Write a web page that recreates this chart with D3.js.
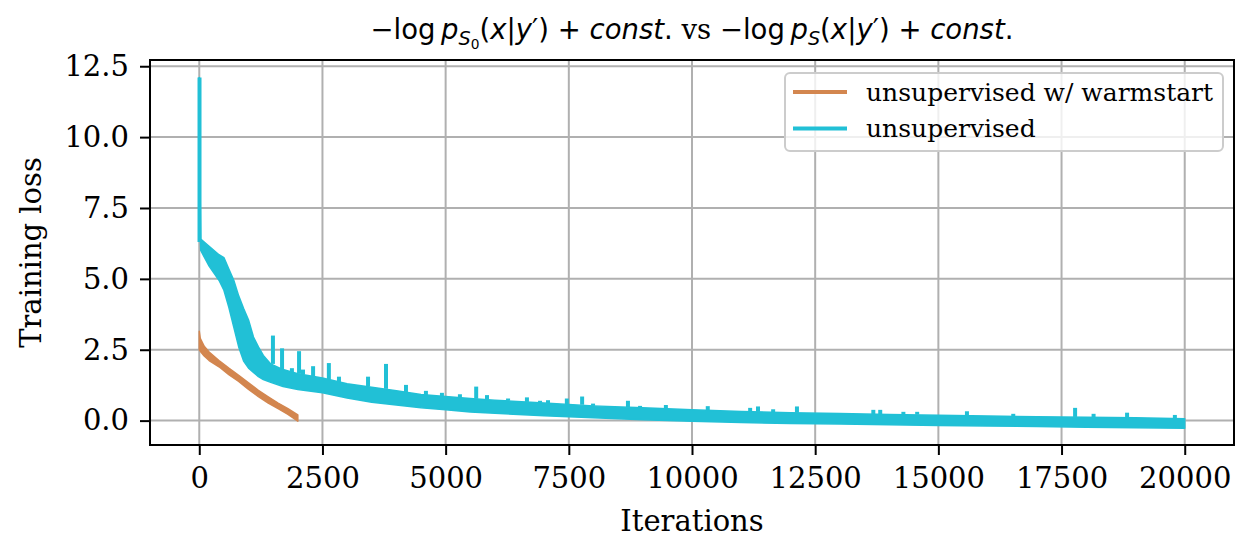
<!DOCTYPE html>
<html>
<head>
<meta charset="utf-8">
<script src="https://cdn.jsdelivr.net/npm/d3@7"></script>
<style>
body { margin: 0; background: #fff; }
svg { display: block; }
</style>
</head>
<body>
<svg id="chart" width="1258" height="558"></svg>
<script>
// tick values
var xTicks = [0, 2500, 5000, 7500, 10000, 12500, 15000, 17500, 20000];
var yTicks = [0, 2.5, 5, 7.5, 10, 12.5];

// "unsupervised" (cyan): band, low / high edge
var cyanIter = [0, 10, 30, 200, 400, 500, 600, 700, 800, 900, 1000, 1100, 1200, 1300, 1450, 1700,
	2000, 2500, 3000, 3500, 4000, 4500, 5000, 5500, 6000, 7000, 8000, 9000, 10000, 11000,
	12000, 13000, 14000, 15000, 16000, 17000, 18000, 19000, 20000];
var cyanLow = [11.9, 7.0, 6.0, 5.45, 4.95, 4.6, 4.0, 3.3, 2.6, 2.1, 1.85, 1.7, 1.55, 1.45, 1.35, 1.2,
	1.1, 0.98, 0.8, 0.65, 0.55, 0.45, 0.38, 0.3, 0.26, 0.17, 0.1, 0.03, -0.02, -0.07,
	-0.1, -0.12, -0.15, -0.17, -0.19, -0.21, -0.23, -0.25, -0.27];
var cyanHigh = [12.1, 9.0, 6.4, 6.15, 5.85, 5.75, 5.35, 4.95, 4.4, 3.95, 3.55, 2.95, 2.6, 2.3, 2.0, 1.8,
	1.65, 1.5, 1.3, 1.18, 1.05, 0.92, 0.85, 0.78, 0.72, 0.62, 0.52, 0.45, 0.38, 0.32,
	0.28, 0.25, 0.22, 0.19, 0.16, 0.14, 0.12, 0.1, 0.07];

// spikes sticking out of the cyan band
var spikeIter = [5, 1495, 1680, 1880, 2025, 2105, 2310, 2630, 2835, 3425, 3790, 4195, 4600, 4925, 5290,
	5620, 5840, 6267, 6650, 6916, 7078, 7460, 7770, 7992, 8700, 8946, 9470, 10320, 11180, 11340,
	11647, 12130, 13680, 13820, 14290, 14570, 15580, 16520, 17775, 18150, 18830, 19800];
var spikeBase = [6.3, 2.0, 1.8, 1.7, 1.65, 1.62, 1.55, 1.45, 1.35, 1.2, 1.12, 1.0, 0.9, 0.86, 0.8,
	0.77, 0.74, 0.7, 0.66, 0.63, 0.62, 0.58, 0.56, 0.52, 0.48, 0.46, 0.42, 0.36, 0.32, 0.31,
	0.3, 0.28, 0.23, 0.23, 0.22, 0.21, 0.18, 0.15, 0.13, 0.12, 0.11, 0.08];
var spikePeak = [12.1, 3.0, 2.55, 1.85, 2.45, 1.8, 1.92, 2.03, 1.55, 1.55, 2.0, 1.26, 1.05, 0.98, 0.93,
	1.2, 0.9, 0.78, 0.82, 0.7, 0.72, 0.78, 0.85, 0.6, 0.7, 0.52, 0.55, 0.51, 0.45, 0.5,
	0.4, 0.5, 0.38, 0.38, 0.31, 0.31, 0.33, 0.24, 0.45, 0.24, 0.28, 0.2];

// "unsupervised w/ warmstart" (orange)
var orangeIter = [0, 20, 100, 200, 400, 600, 800, 1000, 1200, 1400, 1600, 1800, 2000];
var orangeLow = [2.5, 2.45, 2.28, 2.12, 1.9, 1.62, 1.38, 1.1, 0.85, 0.62, 0.42, 0.22, -0.02];
var orangeHigh = [3.15, 2.9, 2.62, 2.42, 2.12, 1.85, 1.6, 1.33, 1.07, 0.84, 0.62, 0.42, 0.2];

var legendLabels = ['unsupervised w/ warmstart', 'unsupervised'];
var colors = ['#d3864f', '#21c0d6'];

var svg = d3.select('#chart');
var margin = {left: 150, right: 24, top: 60, bottom: 113};
var W = 1258, H = 558;
var tickFont = 29;

var x = d3.scaleLinear().domain([-1000, 21000]).range([margin.left, W - margin.right]);
var y = d3.scaleLinear().domain([-0.86, 12.72]).range([H - margin.bottom, margin.top]);

svg.append('defs').append('clipPath').attr('id', 'clip')
	.append('rect')
	.attr('x', x.range()[0]).attr('y', y.range()[1])
	.attr('width', x.range()[1] - x.range()[0])
	.attr('height', y.range()[0] - y.range()[1]);

// grid
var grid = svg.append('g');
grid.selectAll('line.gx').data(xTicks).enter().append('line')
	.attr('x1', function(d) { return x(d); }).attr('x2', function(d) { return x(d); })
	.attr('y1', y.range()[0]).attr('y2', y.range()[1])
	.attr('stroke', '#b0b0b0').attr('stroke-width', 2);
grid.selectAll('line.gy').data(yTicks).enter().append('line')
	.attr('y1', function(d) { return y(d); }).attr('y2', function(d) { return y(d); })
	.attr('x1', x.range()[0]).attr('x2', x.range()[1])
	.attr('stroke', '#b0b0b0').attr('stroke-width', 2);

var plot = svg.append('g').attr('clip-path', 'url(#clip)');

function band(iter, low, high) {
	return d3.area()
		.x(function(i) { return x(iter[i]); })
		.y0(function(i) { return y(low[i]); })
		.y1(function(i) { return y(high[i]); })(d3.range(iter.length));
}

plot.append('path')
	.attr('d', band(orangeIter, orangeLow, orangeHigh))
	.attr('fill', colors[0]).attr('stroke', colors[0]).attr('stroke-width', 1.5)
	.attr('stroke-linejoin', 'round');

plot.append('path')
	.attr('d', band(cyanIter, cyanLow, cyanHigh))
	.attr('fill', colors[1]).attr('stroke', colors[1]).attr('stroke-width', 1.5)
	.attr('stroke-linejoin', 'round');

plot.selectAll('line.spike').data(d3.range(spikeIter.length)).enter().append('line')
	.attr('x1', function(i) { return x(spikeIter[i]); })
	.attr('x2', function(i) { return x(spikeIter[i]); })
	.attr('y1', function(i) { return y(spikeBase[i]); })
	.attr('y2', function(i) { return y(spikePeak[i]); })
	.attr('stroke', colors[1]).attr('stroke-width', 4);

// axes
var xAxis = svg.append('g')
	.attr('transform', 'translate(0,' + y.range()[0] + ')')
	.call(d3.axisBottom(x).tickValues(xTicks).tickSize(10).tickPadding(12).tickFormat(d3.format('d')));
var yAxis = svg.append('g')
	.attr('transform', 'translate(' + x.range()[0] + ',0)')
	.call(d3.axisLeft(y).tickValues(yTicks).tickSize(10).tickPadding(11).tickFormat(d3.format('.1f')));

[xAxis, yAxis].forEach(function(a) {
	a.select('.domain').remove();
	a.selectAll('line').attr('stroke', '#000').attr('stroke-width', 2);
	a.selectAll('text').attr('font-family', 'DejaVu Serif').attr('font-size', tickFont).attr('fill', '#000');
});

svg.append('rect')
	.attr('x', x.range()[0]).attr('y', y.range()[1])
	.attr('width', x.range()[1] - x.range()[0])
	.attr('height', y.range()[0] - y.range()[1])
	.attr('fill', 'none').attr('stroke', '#000').attr('stroke-width', 2);

// labels
svg.append('text')
	.attr('x', (x.range()[0] + x.range()[1]) / 2).attr('y', 531)
	.attr('text-anchor', 'middle')
	.attr('font-family', 'DejaVu Serif').attr('font-size', tickFont)
	.text('Iterations');

svg.append('text')
	.attr('transform', 'translate(41,' + ((y.range()[0] + y.range()[1]) / 2) + ') rotate(-90)')
	.attr('text-anchor', 'middle')
	.attr('font-family', 'DejaVu Serif').attr('font-size', tickFont)
	.text('Training loss');

// title, mathtext style
var tSize = 27.5;
var title = svg.append('text')
	.attr('x', (x.range()[0] + x.range()[1]) / 2).attr('y', 39)
	.attr('text-anchor', 'middle')
	.attr('font-family', 'DejaVu Sans').attr('font-size', tSize);

function part(t, opts) {
	opts = opts || {};
	var s = title.append('tspan').text(t);
	if (opts.it) s.attr('font-style', 'italic');
	if (opts.size) s.attr('font-size', opts.size);
	if (opts.dy) s.attr('dy', opts.dy);
	if (opts.serif) s.attr('font-family', 'DejaVu Serif');
	return s;
}
function half(sub0) {
	part('\u2212log\u2009');
	part('p', {it: true});
	part('S', {it: true, size: tSize * 0.7, dy: 6});
	if (sub0) {
		part('0', {size: tSize * 0.5, dy: 4});
		part('(', {dy: -10});
	} else {
		part('(', {dy: -6});
	}
	part('x', {it: true});
	part('|');
	part('y', {it: true});
	part('\u2032)');
	part(' + ');
	part('const', {it: true});
	part('.');
}
half(true);
part('\u00a0vs\u00a0', {serif: true});
half(false);

// legend
var lg = svg.append('g');
lg.append('rect')
	.attr('x', 785).attr('y', 73).attr('width', 438).attr('height', 78)
	.attr('rx', 5).attr('fill', '#fff').attr('fill-opacity', 0.8)
	.attr('stroke', '#cccccc').attr('stroke-width', 2);
legendLabels.forEach(function(label, i) {
	var ly = 92 + i * 36.5;
	lg.append('line')
		.attr('x1', 793).attr('x2', 847).attr('y1', ly).attr('y2', ly)
		.attr('stroke', colors[i]).attr('stroke-width', 4);
	lg.append('text')
		.attr('x', 866).attr('y', ly + 8.5)
		.attr('font-family', 'DejaVu Serif').attr('font-size', 25)
		.text(label);
});
</script>
</body>
</html>
